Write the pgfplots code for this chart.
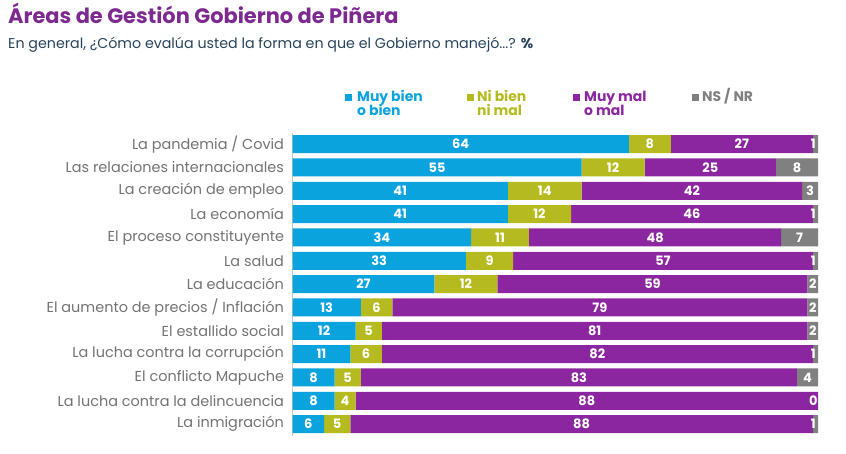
\documentclass[border=0pt]{standalone}
\usepackage{pgfplots}
\pgfplotsset{compat=1.18}
\usepackage{pgfplotstable}
\usepackage{fontspec}
\setmainfont{Poppins}
\definecolor{cblue}{RGB}{11,163,221}
\definecolor{colive}{RGB}{181,187,30}
\definecolor{cpurple}{RGB}{140,38,160}
\definecolor{cgrey}{RGB}{128,128,128}
\definecolor{ctitle}{RGB}{124,42,143}
\definecolor{csub}{RGB}{40,66,92}
\definecolor{clab}{RGB}{115,115,115}

\pgfplotstableread{
y a b c d
0 64 8 27 1
1 55 12 25 8
2 41 14 42 3
3 41 12 46 1
4 34 11 48 7
5 33 9 57 1
6 27 12 59 2
7 13 6 79 2
8 12 5 81 2
9 11 6 82 1
10 8 5 83 4
11 8 4 88 0
12 6 5 88 1
}\data

\pgfplotsset{
  common/.style={
    at={(292.5bp,18.2bp)}, anchor=south west,
    scale only axis, width=525.5bp, height=303.3bp,
    xmin=0, xmax=100, ymin=-0.5, ymax=12.5, y dir=reverse,
  },
  lbl/.style={draw=none, mark=none, only marks, point meta=explicit symbolic,
    nodes near coords,
    every node near coord/.append style={font=\bfseries\fontsize{13}{13}\selectfont, text=white, anchor=center, inner sep=0pt}},
}

\begin{document}
\begin{tikzpicture}
\useasboundingbox (0,0) rectangle (846bp,454bp);
\begin{axis}[
  common,
  xbar stacked, bar width=18bp,
  axis x line=none, axis y line*=left,
  axis line style={draw=gray!45},
  ytick={0,...,12},
  yticklabels={La pandemia / Covid, Las relaciones internacionales, La creación de empleo, La economía, El proceso constituyente, La salud, La educación, El aumento de precios / Inflación, El estallido social, La lucha contra la corrupción, El conflicto Mapuche, La lucha contra la delincuencia, La inmigración},
  yticklabel style={font=\fontsize{14.5}{16}\selectfont, text=clab, xshift=-1bp},
  ytick style={draw=none},
  tick align=outside, major tick length=4bp,
  extra y ticks={-0.5,0.5,...,12.5},
  extra y tick labels={},
  extra y tick style={tick style={draw=gray!50, thin}},
]
\addplot[fill=cblue, draw=none] table[x=a, y=y] {\data};
\addplot[fill=colive, draw=none] table[x=b, y=y] {\data};
\addplot[fill=cpurple, draw=none] table[x=c, y=y] {\data};
\addplot[fill=cgrey, draw=none] table[x=d, y=y] {\data};
\end{axis}
\begin{axis}[common, hide axis, clip=false]
\addplot[lbl] table[x expr={\thisrow{a}/2}, y=y, meta=a] {\data};
\addplot[lbl] table[x expr={\thisrow{a}+\thisrow{b}/2}, y=y, meta=b] {\data};
\addplot[lbl] table[x expr={\thisrow{a}+\thisrow{b}+\thisrow{c}/2}, y=y, meta=c] {\data};
\addplot[lbl] table[x expr={\thisrow{a}+\thisrow{b}+\thisrow{c}+\thisrow{d}-max(\thisrow{d},1.8)/2}, y=y, meta=d] {\data};
\end{axis}
% titles
\node[anchor=base west, inner sep=0, font=\bfseries\fontsize{21}{23}\selectfont, text=ctitle] at (8bp,430bp) {Áreas de Gestión Gobierno de Piñera};
\node[anchor=base west, inner sep=0, font=\fontsize{14.3}{16}\selectfont, text=csub] at (8bp,405bp) {En general, ¿Cómo evalúa usted la forma en que el Gobierno manejó...? \textbf{\%}};
% legend
\begin{scope}[every node/.style={anchor=base west, inner sep=0, font=\bfseries\fontsize{14}{15}\selectfont}]
\fill[cblue] (345bp,353bp) rectangle +(7bp,7bp);
\node[text=cblue] at (357bp,352bp) {Muy bien};
\node[text=cblue] at (357bp,338bp) {o bien};
\fill[colive] (467bp,353bp) rectangle +(7bp,7bp);
\node[text=colive] at (477bp,352bp) {Ni bien};
\node[text=colive] at (477bp,338bp) {ni mal};
\fill[cpurple] (573bp,353bp) rectangle +(7bp,7bp);
\node[text=cpurple] at (584bp,352bp) {Muy mal};
\node[text=cpurple] at (584bp,338bp) {o mal};
\fill[cgrey] (692bp,353bp) rectangle +(7bp,7bp);
\node[text=cgrey] at (702bp,352bp) {NS / NR};
\end{scope}
\end{tikzpicture}
\end{document}
